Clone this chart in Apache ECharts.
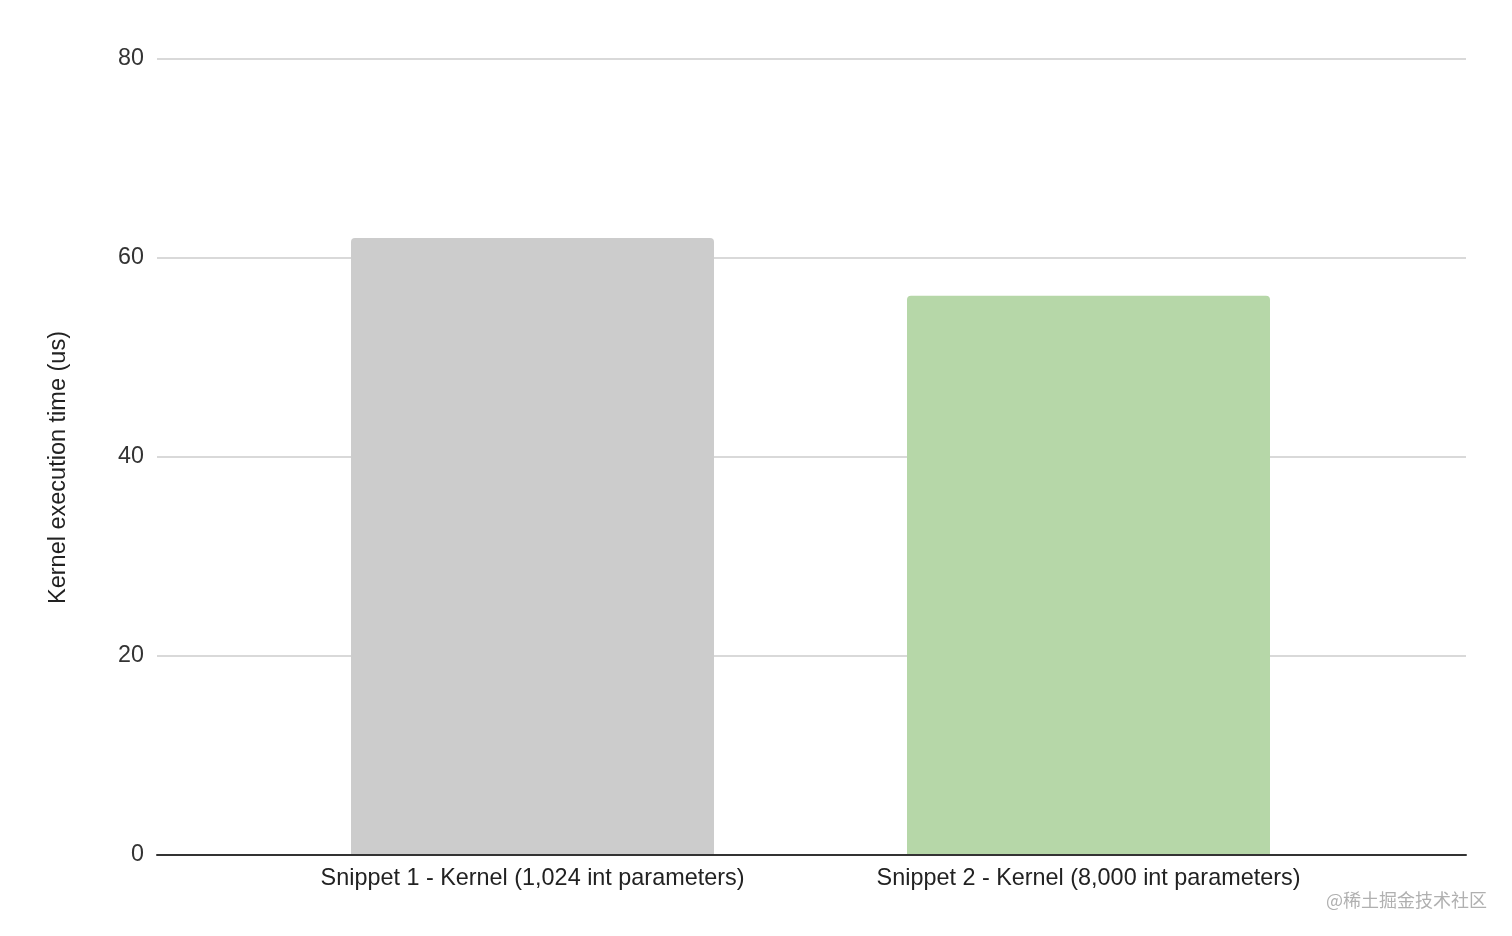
<!DOCTYPE html>
<html><head><meta charset="utf-8">
<script src="https://cdn.jsdelivr.net/npm/echarts@6/dist/echarts.min.js"></script>
<style>html,body{margin:0;padding:0;background:#fff}#c{width:1512px;height:936px}</style>
</head><body><div id="c"></div>
<script>
const categories = ['Snippet 1 - Kernel (1,024 int parameters)', 'Snippet 2 - Kernel (8,000 int parameters)'];
const values = [62, 56.2];
const barColors = ['#cccccc', '#b6d7a8'];
const yTicks = [0, 20, 40, 60, 80];
const yTitle = 'Kernel execution time (us)';
const watermark = '@稀土掘金技术社区';

const font = 'Liberation Sans, Arial, sans-serif';
const chart = echarts.init(document.getElementById('c'));
chart.setOption({
  animation: false,
  backgroundColor: '#fff',
  graphic: [{
    type: 'text', right: 25, top: 891,
    style: { text: watermark, fill: '#b0b0b0', font: '18px "Noto Sans CJK SC", sans-serif' }
  }],
  grid: [
    { left: 157, right: 46, top: 59, bottom: 81 },
    { left: 254.5, right: 145.5, top: 59, bottom: 81 }
  ],
  xAxis: [
    { gridIndex: 0, type: 'category', data: [''], axisLine: { show: true, lineStyle: { color: '#333', width: 2 } },
      axisTick: { show: false }, axisLabel: { show: false }, z: 10 },
    { gridIndex: 1, type: 'category', data: categories, axisLine: { show: false }, axisTick: { show: false },
      axisLabel: { color: '#222', fontSize: 23.4, fontFamily: font, margin: 12 } }
  ],
  yAxis: [
    { gridIndex: 0, type: 'value', min: yTicks[0], max: yTicks[yTicks.length - 1], interval: 20,
      name: yTitle, nameLocation: 'middle', nameGap: 86,
      nameTextStyle: { color: '#222', fontSize: 23.5, fontFamily: font, padding: [0, 21, 0, 0] },
      axisLine: { show: false }, axisTick: { show: false },
      axisLabel: { color: '#333', fontSize: 23.3, fontFamily: font, margin: 13 },
      splitLine: { lineStyle: { color: '#cccccc', width: 1.5 } } },
    { gridIndex: 1, type: 'value', min: yTicks[0], max: yTicks[yTicks.length - 1], interval: 20,
      axisLine: { show: false }, axisTick: { show: false }, axisLabel: { show: false }, splitLine: { show: false } }
  ],
  series: [{
    type: 'bar', xAxisIndex: 1, yAxisIndex: 1, barWidth: 363,
    data: values.map((v, i) => ({ value: v, itemStyle: { color: barColors[i], borderRadius: [4, 4, 0, 0] } }))
  }]
});
</script></body></html>
